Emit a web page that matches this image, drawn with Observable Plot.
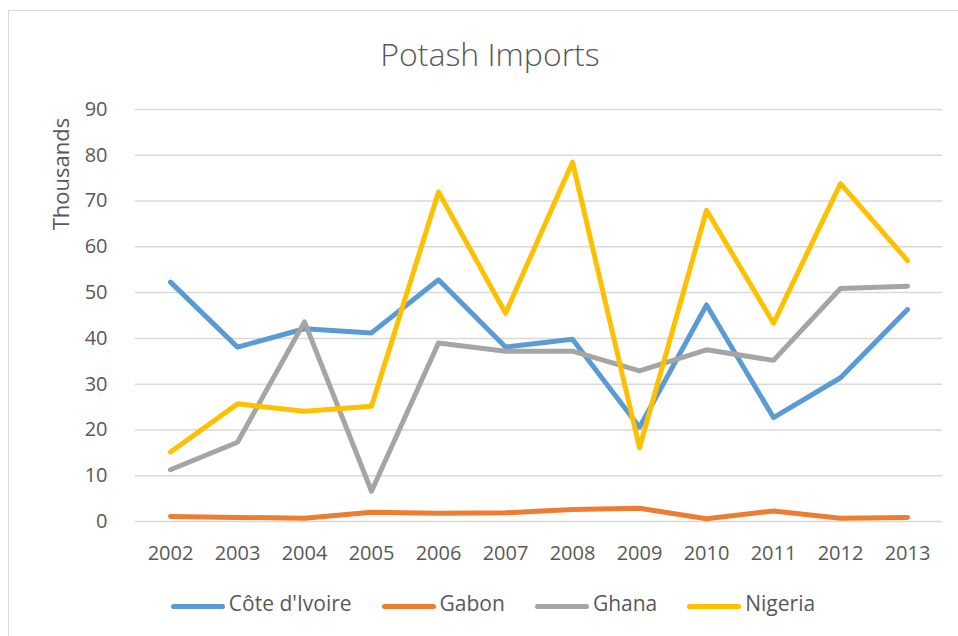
<!DOCTYPE html>
<html>
<head>
<meta charset="utf-8">
<script src="https://cdn.jsdelivr.net/npm/d3@7"></script>
<script src="https://cdn.jsdelivr.net/npm/@observablehq/plot@0.6"></script>
<style>
  html, body { margin: 0; padding: 0; background: #fff; }
  #wrap { position: relative; width: 958px; height: 636px; overflow: hidden; font-family: "Open Sans", sans-serif; color: #595959; }
  #frame { position: absolute; left: 8px; top: 10px; width: 1000px; height: 700px; border-left: 1.5px solid #d9d9d9; border-top: 1.5px solid #d9d9d9; }
  #chart { position: absolute; left: 0; top: 0; }
  #title { position: absolute; left: 0; width: 980px; top: 38px; text-align: center; font-size: 32px; line-height: 32px; font-weight: 300; }
  #ylabel { position: absolute; left: 60px; top: 174px; transform: translate(-50%, -50%) rotate(-90deg); font-size: 22px; white-space: nowrap; }
  #legend { position: absolute; left: 0; width: 986px; top: 588px; height: 30px; display: flex; justify-content: center; align-items: center; font-size: 21px; line-height: 30px; }
  .item { display: flex; align-items: center; margin: 0 15px; }
  .sw { display: inline-block; width: 54px; height: 5px; border-radius: 3px; margin-right: 4px; position: relative; top: 3px; }
</style>
</head>
<body>
<div id="wrap">
  <div id="frame"></div>
  <div id="chart"></div>
  <div id="title">Potash Imports</div>
  <div id="ylabel">Thousands</div>
  <div id="legend"></div>
</div>
<script>
const years = ["2002","2003","2004","2005","2006","2007","2008","2009","2010","2011","2012","2013"];
const seriesNames = ["Côte d'Ivoire", "Gabon", "Ghana", "Nigeria"];
const seriesColors = ["#5B9BD5", "#ED7D31", "#A5A5A5", "#FFC000"];
const cote    = [52.3, 38.1, 42.1, 41.2, 52.8, 38.1, 39.8, 20.6, 47.3, 22.7, 31.4, 46.3];
const gabon   = [1.1, 0.9, 0.7, 2.0, 1.8, 1.9, 2.6, 2.9, 0.6, 2.3, 0.7, 0.9];
const ghana   = [11.3, 17.3, 43.6, 6.6, 39.0, 37.2, 37.2, 32.9, 37.5, 35.2, 50.9, 51.4];
const nigeria = [15.2, 25.7, 24.1, 25.2, 72.0, 45.5, 78.5, 16.1, 68.0, 43.3, 73.8, 57.0];
const yTicks = [0, 10, 20, 30, 40, 50, 60, 70, 80, 90];

const seriesValues = [cote, gabon, ghana, nigeria];
const rows = [];
seriesNames.forEach((name, i) => {
  years.forEach((yr, j) => rows.push({series: name, year: yr, value: seriesValues[i][j]}));
});

const chart = Plot.plot({
  width: 958,
  height: 636,
  marginLeft: 135,
  marginRight: 16,
  marginTop: 109,
  marginBottom: 115,
  style: {fontFamily: "Open Sans", fontSize: "20px", color: "#595959", background: "transparent"},
  x: {type: "point", domain: years, padding: 0.5, label: null},
  y: {domain: [0, 90], ticks: yTicks, label: null},
  color: {domain: seriesNames, range: seriesColors},
  marks: [
    Plot.gridY(yTicks, {stroke: "#d9d9d9", strokeOpacity: 1, strokeWidth: 1.5}),
    Plot.axisY(yTicks, {tickSize: 0, tickPadding: 28, label: null, fill: "#595959"}),
    Plot.axisX(years, {tickSize: 0, tickPadding: 24, label: null, fill: "#595959"}),
    Plot.line(rows, {x: "year", y: "value", z: "series", stroke: "series",
      strokeWidth: 5, strokeLinecap: "round", strokeLinejoin: "round"})
  ]
});
document.getElementById("chart").appendChild(chart);

const legend = document.getElementById("legend");
seriesNames.forEach((name, i) => {
  const item = document.createElement("div");
  item.className = "item";
  const sw = document.createElement("span");
  sw.className = "sw";
  sw.style.background = seriesColors[i];
  const label = document.createElement("span");
  label.textContent = name;
  item.appendChild(sw);
  item.appendChild(label);
  legend.appendChild(item);
});
</script>
</body>
</html>
